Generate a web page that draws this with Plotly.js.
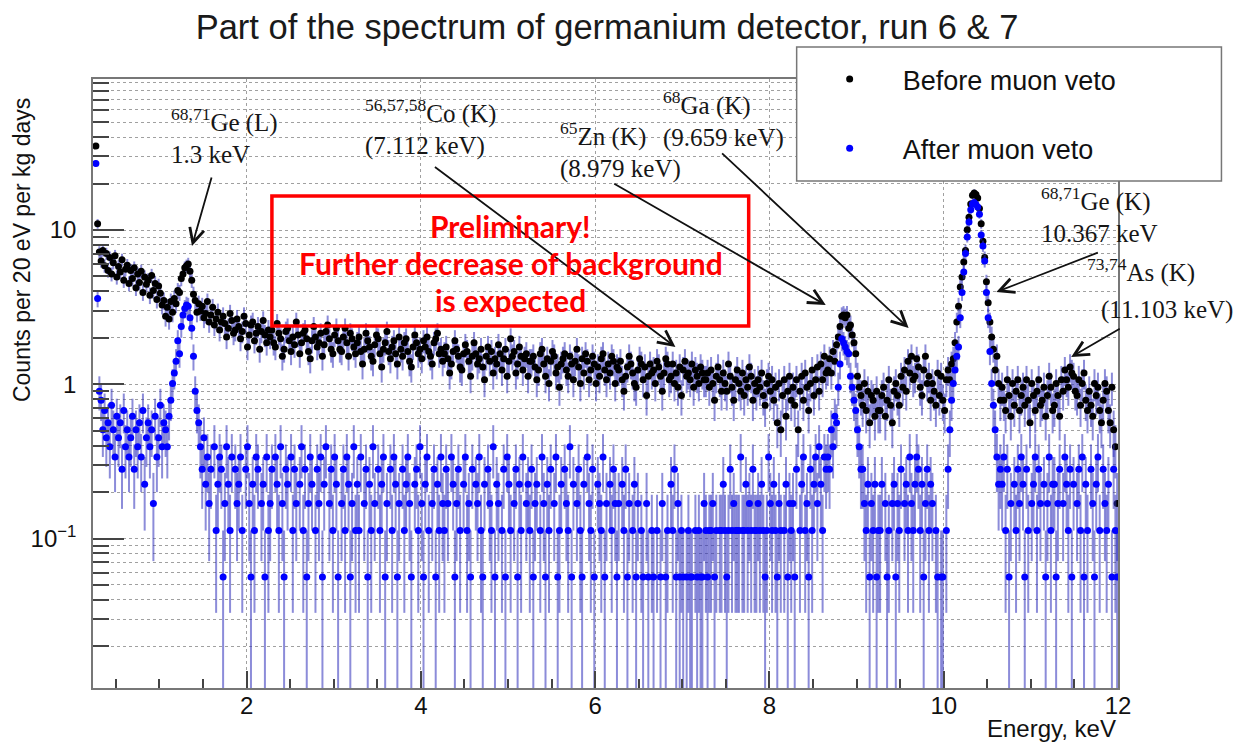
<!DOCTYPE html>
<html><head><meta charset="utf-8">
<script src="https://cdn.plot.ly/plotly-3.0.1.min.js"></script>
<style>html,body{margin:0;padding:0;background:#fff}#chart{width:1240px;height:742px}</style>
</head><body><div id="chart"></div>
<script>
// ---- histogram binning (20 eV bins) ----
const binLow = 0.26;      // keV, lower edge of first bin
const binWidth = 0.02;    // keV
const countScale = 0.0563; // one count -> counts per 20 eV per kg day

// ---- before muon veto (counts per bin) ----
const beforeCounts = [
622,195,128,112,131,104,125,97,118,92, 109,121,88,103,95,114,84,99,105,80, 97,86,101,75,92,81,96,70,88,79, 84,67,90,72,80,63,77,69,58,62, 49,56,47,61,52,64,59,72,70,86,
92,101,104,107,96,84,68,62,52,59, 53,57,48,51,61,45,50,56,43,47, 52,40,45,49,44,36,41,51,46,38, 40,47,42,35,39,49,44,31,37,43, 45,34,38,42,30,39,46,37,33,40,
36,40,33,31,44,38,35,27,30,39, 41,34,29,36,32,45,37,28,33,38, 40,35,29,26,34,42,36,31,33,38, 27,32,39,43,35,30,28,37,41,34, 30,29,36,41,33,27,38,35,31,28,
33,36,29,24,30,38,34,31,27,25, 32,37,35,28,23,30,33,39,29,26, 31,34,28,24,36,30,27,33,35,29, 25,23,31,37,33,28,30,26,34,31, 36,29,27,24,33,35,38,28,30,25,
28,31,26,21,24,29,34,30,27,23, 22,28,32,29,25,20,27,33,28,24, 26,30,23,19,27,31,25,29,21,26, 24,32,28,22,26,30,20,25,35,27, 29,21,24,31,27,22,26,28,20,25,
25,27,23,19,22,28,30,24,20,26, 18,25,29,27,21,23,17,24,26,28, 22,20,27,24,19,25,30,23,18,26, 21,28,25,19,22,27,24,18,23,20, 26,28,22,19,24,21,27,25,18,23,
22,25,19,16,20,23,27,24,21,18, 17,22,26,24,19,23,15,20,24,21, 22,18,25,23,20,16,21,26,24,19, 20,24,18,21,17,23,15,22,25,20, 21,19,24,17,22,20,18,23,21,19,
19,21,17,22,18,14,20,23,19,16, 21,18,16,24,20,17,14,19,22,18, 16,21,15,19,17,23,20,14,18,16, 19,17,21,15,13,18,20,16,19,14, 17,10,18,9,15,19,11,16,20,14,
17,13,19,9,16,20,14,21,17,12, 18,22,15,19,23,16,24,19,27,21, 22,26,21,29,25,32,36,42,49,50, 48,50,41,43,37,33,28,20,17,15, 13,18,12,16,10,15,14,11,16,12,
12,15,17,11,14,19,13,10,16,18, 15,13,20,17,22,16,25,21,27,19, 20,26,23,17,15,22,27,18,20,14, 18,16,13,21,15,20,14,12,19,22, 19,24,26,33,45,57,76,88,110,131,
178,215,262,298,309,302,286,245,195,150, 118,82,60,45,36,30,22,27,18,14, 17,14,12,19,15,11,18,13,16,19, 12,15,17,13,19,14,10,18,15,12, 16,19,13,14,17,11,15,20,17,12,
13,18,15,11,19,16,22,19,17,23, 21,20,16,15,19,13,18,21,14,12, 16,13,11,18,15,17,12,10,14,18, 16,12,10,17,9,7,3
];

// ---- after muon veto (counts per bin) ----
const afterCounts = [
480,64,16,14,9,12,8,10,7,13, 9,6,11,8,10,5,12,7,9,6, 8,11,5,9,7,10,6,12,4,8, 10,7,9,3,11,6,8,13,7,10, 9,7,11,14,18,21,25,34,28,42,
50,55,58,57,48,41,27,16,12,10, 7,5,8,4,6,3,5,0,7,2, 4,6,5,1,3,7,4,2,6,0, 5,3,4,6,2,0,5,7,3,1, 4,2,6,5,0,3,4,1,6,2,
3,5,0,6,4,2,7,3,1,5, 4,0,6,2,5,3,0,4,7,2, 5,1,3,6,4,0,2,5,3,6, 1,4,7,0,3,5,2,6,4,1, 0,3,5,2,6,4,1,3,7,2,
4,2,6,0,3,5,1,4,2,7, 3,0,5,2,4,6,1,3,0,5, 2,6,4,1,3,0,5,2,4,6, 3,1,0,4,5,2,7,3,1,4, 6,2,0,3,5,1,4,2,6,3,
2,5,3,0,6,4,1,3,5,2, 0,4,6,2,3,1,5,0,4,3, 6,2,1,4,0,5,3,2,7,1, 4,3,0,2,5,1,6,4,2,0, 3,5,1,4,2,6,0,3,4,2,
5,1,3,4,0,2,6,3,1,4, 2,5,0,3,6,1,2,4,0,5, 3,2,7,1,4,0,3,5,2,1, 4,0,6,3,2,5,1,0,4,3, 2,6,1,3,0,4,2,5,3,1,
3,0,4,2,5,1,3,0,2,4, 1,3,0,2,1,0,3,1,0,2, 1,0,2,0,1,3,0,1,2,0, 4,2,5,1,3,1,2,1,0,1, 2,1,1,0,2,1,2,1,1,3,
2,1,2,2,3,1,2,0,2,2, 4,2,1,2,5,2,3,2,2,2, 6,2,2,4,2,3,2,5,2,2, 3,2,4,2,1,2,6,3,2,4, 2,1,3,2,0,2,4,1,3,2,
3,1,5,0,2,4,6,2,3,1, 5,2,4,6,3,7,4,2,6,5, 6,5,9,7,11,10,17,24,35,33, 31,29,28,20,17,14,12,9,7,5, 5,3,2,4,1,3,2,4,1,2,
2,4,0,3,1,2,0,3,4,1, 3,2,5,0,3,4,2,6,3,2, 4,6,5,2,4,1,3,5,2,4, 3,0,2,1,0,1,1,0,2,5, 9,14,18,22,27,31,48,70,95,125,
160,200,240,262,268,260,250,225,165,140, 112,70,48,29,18,13,9,6,4,5, 4,6,2,5,1,3,0,4,2,5, 3,6,4,1,5,2,0,3,4,6, 2,5,3,0,4,1,3,6,2,4,
4,1,3,5,0,3,6,4,2,5, 1,4,0,3,5,2,6,1,4,2, 0,5,3,1,4,6,2,0,5,3, 2,4,0,1,5,2,1
];

const seriesNames = ['Before muon veto', 'After muon veto'];
const seriesColors = ['#000000', '#0000ff'];
const yMajorVals = [0.1, 1, 10];
const yMajorText = ['10<sup>\u22121</sup>', '1', '10'];
const yMinorMultipliers = [2, 3, 4, 5, 6, 7, 8, 9];
const yDecades = [0.01, 0.1, 1, 10];

// peak labels
const labelLines = [
  {t: '<sup>68,71</sup>Ge (L)<br>1.3 keV', px: 169, py: 102},
  {t: '<sup>56,57,58</sup>Co (K)<br>(7.112 keV)', px: 363, py: 93},
  {t: '<sup>65</sup>Zn (K)<br>(8.979 keV)', px: 558, py: 116},
  {t: '<sup>68</sup>Ga (K)<br>(9.659 keV)', px: 661, py: 85},
  {t: '<sup>68,71</sup>Ge (K)<br>10.367 keV', px: 1039, py: 181},
  {t: '<sup>73,74</sup>As (K)', px: 1085, py: 252},
  {t: '(11.103 keV)', px: 1099, py: 294}
];
// arrows: tip in data units (keV, log10 value), tail offset in px
const arrows = [
  {e: 1.373, lg: 0.896, ax: 20, ay: -70},
  {e: 6.921, lg: 0.242, ax: -242, ay: -181},
  {e: 8.646, lg: 0.514, ax: -213, ay: -122},
  {e: 9.597, lg: 0.365, ax: -188, ay: -176},
  {e: 10.604, lg: 0.598, ax: 103, ay: -40},
  {e: 11.463, lg: 0.177, ax: 50, ay: -29}
];
const noteLines = ['Preliminary!', 'Further decrease of background', 'is expected'];

// ---- build traces ----
function toSeries(counts) {
  const x = [], y = [], err = [];
  counts.forEach((c, i) => {
    x.push(binLow + binWidth * (i + 0.5));
    if (c > 0) { y.push(c * countScale); err.push(Math.sqrt(c) * countScale); }
    else { y.push(null); err.push(null); }
  });
  return {x, y, err};
}
const sB = toSeries(beforeCounts), sA = toSeries(afterCounts);
const errColor = 'rgba(45,45,185,0.55)';
const traces = [
  {type: 'scatter', mode: 'markers', name: seriesNames[0], x: sB.x, y: sB.y,
   error_y: {type: 'data', array: sB.err, visible: true, color: errColor, thickness: 2, width: 0},
   marker: {color: seriesColors[0], size: 7}, legendgroup: 'a', legendrank: 1, hoverinfo: 'x+y'},
  {type: 'scatter', mode: 'markers', name: seriesNames[1], x: sA.x, y: sA.y,
   error_y: {type: 'data', array: sA.err, visible: true, color: errColor, thickness: 2, width: 0},
   marker: {color: seriesColors[1], size: 7}, legendgroup: 'b', legendrank: 2, hoverinfo: 'x+y'},
  {type: 'scatter', mode: 'markers', x: [], y: [], xaxis: 'x', yaxis: 'y2', showlegend: false, hoverinfo: 'skip'}
];

// y tick values (all decades + minor positions)
const yAllVals = [], yAllText = [];
yDecades.forEach(d => {
  const mi = yMajorVals.indexOf(d);
  yAllVals.push(d); yAllText.push(mi >= 0 ? yMajorText[mi] : '');
  yMinorMultipliers.forEach(m => { yAllVals.push(+(m * d).toPrecision(3)); yAllText.push(''); });
});

// plot-area pixel geometry for placing text
const L = 93, R = 1118.5, T = 79, B = 688;
const px = v => (v - L) / (R - L);
const py = v => (B - v) / (B - T);

const annotations = [];
labelLines.forEach(l => annotations.push({
  text: l.t, xref: 'paper', yref: 'paper', x: px(l.px), y: py(l.py), xanchor: 'left', yanchor: 'top',
  align: 'left', showarrow: false, font: {family: 'Liberation Serif, Times New Roman, serif', size: 25, color: '#161616'}
}));
arrows.forEach(a => annotations.push({
  text: '', xref: 'x', yref: 'y', x: a.e, y: a.lg, ax: a.ax, ay: a.ay, showarrow: true,
  arrowhead: 5, arrowsize: 1.6, arrowwidth: 1.8, arrowcolor: '#111'
}));
const noteY = [226, 263, 300];
noteLines.forEach((t, i) => annotations.push({
  text: '<b>' + t + '</b>', xref: 'paper', yref: 'paper', x: px(511), y: py(noteY[i]), xanchor: 'center', yanchor: 'middle',
  showarrow: false, font: {family: 'Lato, Open Sans, sans-serif', size: 30, color: '#ff0000'}
}));
annotations.push({text: 'Counts per 20 eV per kg days', textangle: -90, xref: 'paper', yref: 'paper',
  x: px(22), y: py(250), xanchor: 'center', yanchor: 'middle', showarrow: false, font: {size: 23, color: '#111'}});
annotations.push({text: 'Energy, keV', xref: 'paper', yref: 'paper', x: 1, y: py(728), xanchor: 'right', yanchor: 'middle',
  showarrow: false, font: {size: 24, color: '#111'}});

const shapes = [
  {type: 'rect', xref: 'paper', yref: 'paper', x0: px(272), x1: px(749), y0: py(326), y1: py(196),
   line: {color: '#ff0000', width: 3.5}, fillcolor: 'rgba(0,0,0,0)', layer: 'above'},
  {type: 'rect', xref: 'paper', yref: 'paper', x0: px(797), x1: px(1222), y0: py(181), y1: py(47),
   line: {color: '#777', width: 1.5}, fillcolor: '#ffffff', layer: 'above'}
];

const gridCol = '#a0a0a0';
const layout = {
  width: 1240, height: 742,
  margin: {l: L, r: 1240 - R, t: T, b: 742 - B, pad: 0},
  paper_bgcolor: '#ffffff', plot_bgcolor: '#ffffff',
  font: {family: 'Liberation Sans, Arial, sans-serif', color: '#111'},
  title: {text: 'Part of the spectrum of germanium detector, run 6 &amp; 7', x: 607 / 1240, xanchor: 'center',
    y: 1 - 27 / 742, yanchor: 'middle', font: {size: 34.5, color: '#1a1a1a'}},
  showlegend: true,
  legend: {x: px(797), y: py(55), xanchor: 'left', yanchor: 'top', bgcolor: 'rgba(0,0,0,0)', borderwidth: 0,
    font: {size: 27, color: '#111'}, itemwidth: 96, tracegroupgap: 31, itemclick: false, itemdoubleclick: false},
  xaxis: {range: [0.237, 12], tickmode: 'linear', tick0: 0, dtick: 2, ticks: 'inside', ticklen: 17, tickwidth: 1.5,
    tickcolor: '#444', showgrid: true, gridcolor: gridCol, griddash: 'dot', gridwidth: 1,
    showline: true, mirror: true, linecolor: '#777', linewidth: 1.5, zeroline: false,
    tickfont: {size: 24, color: '#111'}, ticklabelstandoff: -5,
    minor: {tick0: 0, dtick: 0.5, ticks: 'inside', ticklen: 9, tickwidth: 1.5, tickcolor: '#444', showgrid: false}},
  yaxis: {type: 'log', range: [-1.969, 1.979], tickmode: 'array', tickvals: yAllVals, ticktext: yAllText,
    ticks: 'inside', ticklen: 16, tickwidth: 1.5, tickcolor: '#444', showgrid: true, gridcolor: gridCol, griddash: 'dot',
    gridwidth: 1, showline: true, mirror: true, linecolor: '#777', linewidth: 1.5, zeroline: false,
    tickfont: {size: 24, color: '#111'}, ticklabelstandoff: 10},
  yaxis2: {type: 'log', overlaying: 'y', side: 'left', anchor: 'x', range: [-1.969, 1.979], tickmode: 'array',
    tickvals: yMajorVals, ticks: 'inside', ticklen: 31, tickwidth: 1.5, tickcolor: '#444', showticklabels: false,
    showgrid: false, showline: false, zeroline: false},
  annotations: annotations,
  shapes: shapes
};

Plotly.newPlot('chart', traces, layout, {displayModeBar: false, responsive: false});
</script>
</body></html>
